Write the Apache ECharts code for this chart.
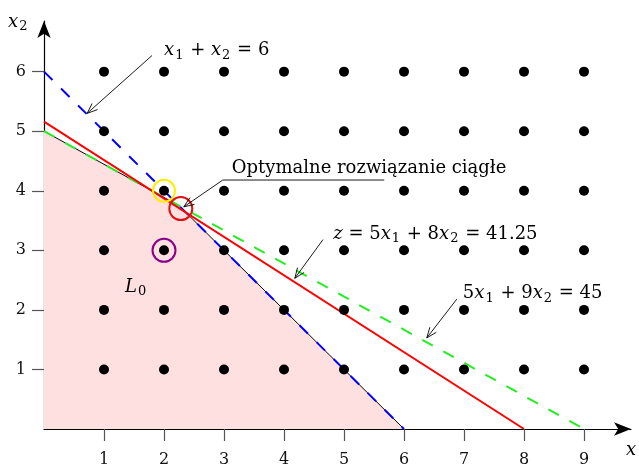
<!DOCTYPE html>
<html><head><meta charset="utf-8">
<script src="https://cdn.jsdelivr.net/npm/echarts@6/dist/echarts.min.js"></script>
<style>html,body{margin:0;padding:0;background:#fff}#c{width:639px;height:466px}</style>
</head><body><div id="c"></div>
<script>
// ---- data ----
const xTicks = [1, 2, 3, 4, 5, 6, 7, 8, 9];
const yTicks = [1, 2, 3, 4, 5, 6];
const latticeX = [1, 2, 3, 4, 5, 6, 7, 8, 9];
const latticeY = [1, 2, 3, 4, 5, 6];
const feasibleBoundary = [[0, 5], [2.25, 3.75], [6, 0]];
const lineX1X2 = [[0, 6], [6, 0]];          // x1 + x2 = 6
const line5x9x = [[0, 5], [9, 0]];          // 5x1 + 9x2 = 45
const lineObjective = [[0, 5.16], [8, 0]];  // z = 5x1 + 8x2 = 41.25
const optimumPoint = [[2.28, 3.7]];
const yellowPoint = [[2, 4]];
const purplePoint = [[2, 3]];

// annotations (data coordinates)
const annotations = [
  { text: '{i|x}{s|1}{n| + }{i|x}{s|2}{n| = 6}', at: [2.0, 6.35], path: [[1.80, 6.27], [0.72, 5.30]] },
  { text: '{n|Optymalne rozwiązanie ciągłe}', at: [3.13, 4.38], path: [[5.67, 4.18], [2.98, 4.18], [2.33, 3.73]] },
  { text: '{i|z}{n| = 5}{i|x}{s|1}{n| + 8}{i|x}{s|2}{n| = 41.25}', at: [4.82, 3.27], path: [[4.65, 3.18], [4.18, 2.53]] },
  { text: '{n|5}{i|x}{s|1}{n| + 9}{i|x}{s|2}{n| = 45}', at: [6.98, 2.27], path: [[6.88, 2.18], [6.38, 1.53]] },
  { text: '{i|L}{s|0}', at: [1.35, 2.38], path: null }
];

const SERIF = '"DejaVu Serif", "Liberation Serif", serif';
const FS = 18;
const rich = {
  i: { fontFamily: SERIF, fontStyle: 'italic', fontSize: FS, lineHeight: 22, color: '#111' },
  n: { fontFamily: SERIF, fontSize: FS, lineHeight: 22, color: '#111' },
  s: { fontFamily: SERIF, fontSize: 13, lineHeight: 12, verticalAlign: 'bottom', color: '#111', padding: [0, 1, 0, 1] }
};

const lattice = [];
latticeY.forEach(y => latticeX.forEach(x => lattice.push([x, y])));

const chart = echarts.init(document.getElementById('c'));
const ring = c => ({ color: 'rgba(0,0,0,0)', borderColor: c, borderWidth: 2, opacity: 1 });
const option = {
  animation: false,
  grid: { left: 44, right: 8, top: 21, bottom: 37, containLabel: false, outerBoundsMode: 'none' },
  xAxis: {
    type: 'value', min: 0, max: 9.7833, interval: 1,
    splitLine: { show: false },
    axisLine: { onZero: false, lineStyle: { color: '#000', width: 1.2 }, symbol: ['none', 'arrow'], symbolSize: [10, 17] },
    axisTick: { show: true, length: 12, customValues: xTicks, lineStyle: { color: '#555', width: 1.2 } },
    axisLabel: { customValues: xTicks, margin: 23, color: '#111', fontFamily: SERIF, fontSize: 16 }
  },
  yAxis: {
    type: 'value', min: 0, max: 6.85, interval: 1,
    splitLine: { show: false },
    axisLine: { onZero: false, lineStyle: { color: '#000', width: 1.2 }, symbol: ['none', 'arrow'], symbolSize: [10, 17] },
    axisTick: { show: true, length: 12, customValues: yTicks, lineStyle: { color: '#555', width: 1.2 } },
    axisLabel: { customValues: yTicks, margin: 18, color: '#111', fontFamily: SERIF, fontSize: 16 }
  },
  series: [
    { type: 'line', data: feasibleBoundary, symbol: 'none', z: 1,
      lineStyle: { color: '#000', width: 1 },
      areaStyle: { color: '#ffe0e0', opacity: 1, origin: 'start' } },
    { type: 'line', data: line5x9x, symbol: 'none', z: 2,
      lineStyle: { color: '#22ee22', width: 2, type: [12, 12] } },
    { type: 'line', data: lineX1X2, symbol: 'none', z: 3,
      lineStyle: { color: '#0000ff', width: 2, type: [12, 12] } },
    { type: 'line', data: lineObjective, symbol: 'none', z: 4,
      lineStyle: { color: '#ff0000', width: 2 } },
    { type: 'scatter', data: lattice, symbol: 'circle', symbolSize: 10, z: 5,
      itemStyle: { color: '#000', opacity: 1 } },
    { type: 'scatter', data: yellowPoint, symbol: 'circle', symbolSize: 22, z: 6, itemStyle: ring('#ffee00') },
    { type: 'scatter', data: optimumPoint, symbol: 'circle', symbolSize: 23, z: 6, itemStyle: ring('#dd1111') },
    { type: 'scatter', data: purplePoint, symbol: 'circle', symbolSize: 23, z: 6, itemStyle: ring('#880088') }
  ]
};
chart.setOption(option);

function px(p) { return chart.convertToPixel({ gridIndex: 0 }, p); }
const graphics = [];
annotations.forEach(a => {
  const t = px(a.at);
  graphics.push({ type: 'text', z: 20, style: { text: a.text, rich: rich, x: t[0], y: t[1], align: 'left', verticalAlign: 'middle' } });
  if (a.path) {
    const pts = a.path.map(px);
    graphics.push({ type: 'polyline', z: 20, shape: { points: pts }, style: { stroke: '#000', lineWidth: 0.9, fill: null } });
    const e = pts[pts.length - 1], s = pts[pts.length - 2];
    const ang = Math.atan2(s[1] - e[1], s[0] - e[0]);
    const L = 11, da = 0.38;
    graphics.push({ type: 'polyline', z: 20, shape: { points: [
      [e[0] + L * Math.cos(ang + da), e[1] + L * Math.sin(ang + da)], e,
      [e[0] + L * Math.cos(ang - da), e[1] + L * Math.sin(ang - da)] ] },
      style: { stroke: '#000', lineWidth: 0.9, fill: null } });
  }
});
// axis names
graphics.push({ type: 'text', z: 20, style: { text: '{i|x}{s|2}', rich: rich, x: 8, y: 22, align: 'left', verticalAlign: 'middle' } });
graphics.push({ type: 'text', z: 20, style: { text: '{i|x}{s|1}', rich: rich, x: 626, y: 450, align: 'left', verticalAlign: 'middle' } });
chart.setOption({ graphic: graphics });
</script></body></html>
